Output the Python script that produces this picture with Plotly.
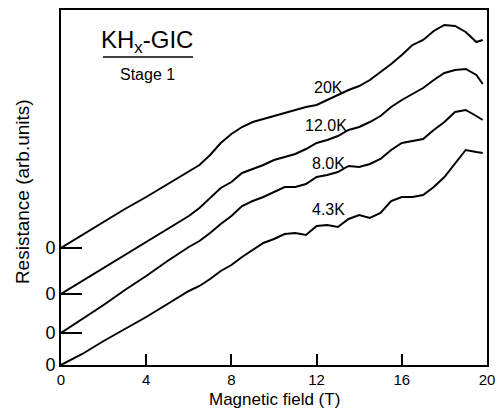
import plotly.graph_objects as go

# Magnetic field (T) at which each trace is sampled
field = [0, 1, 2, 3, 4, 5, 6,
         6.5, 7, 7.5, 8, 8.5, 9, 9.5, 10, 10.5, 11, 11.5, 12, 12.5, 13,
         13.5, 14, 14.5, 15, 15.5, 16, 16.5, 17, 17.5, 18, 18.5, 19, 19.5,
         19.8]

# Resistance (arb. units) of each trace above its own zero
r_20k = [0, 1.3, 2.6, 3.9, 5.1, 6.4, 7.7,
         8.3, 9.3, 10.5, 11.4, 12.1, 12.6, 12.9, 13.2, 13.5, 13.8, 14.1, 14.3, 14.8, 15.3,
         15.8, 16.2, 16.8, 17.6, 18.4, 19.3, 20.3, 20.8, 21.7, 22.3, 22.2, 21.6, 20.6,
         20.8]
r_12k = [0, 1.3, 2.6, 3.9, 5.2, 6.5, 7.8,
         8.6, 9.6, 10.6, 11.2, 12.1, 12.5, 12.9, 13.4, 13.7, 14.0, 14.5, 15.1, 15.4, 15.8,
         16.4, 16.7, 17.2, 17.8, 18.7, 19.4, 20.0, 20.6, 21.4, 22.1, 22.4, 22.5, 21.9,
         21.0]
r_8k = [0, 1.4, 2.8, 4.3, 5.7, 7.2, 8.6,
        9.2, 10.0, 10.9, 11.7, 12.7, 13.2, 13.6, 14.1, 14.6, 14.6, 14.9, 15.6, 15.8, 16.1,
        16.7, 16.6, 16.9, 17.4, 18.3, 19.0, 19.2, 19.4, 20.3, 21.1, 22.1, 22.3, 21.7,
        21.3]
r_4k = [0, 1.1, 2.4, 3.6, 4.8, 6.1, 7.4,
        7.9, 8.6, 9.4, 10.0, 10.8, 11.5, 12.2, 12.6, 13.1, 13.2, 13.0, 13.9, 14.0, 13.8,
        14.6, 15.0, 14.7, 15.2, 16.4, 16.8, 16.8, 17.0, 17.8, 18.8, 20.2, 21.5, 21.3,
        21.2]

temps = ["20K", "12.0K", "8.0K", "4.3K"]
offsets = [11.7, 7.1, 3.2, 0.0]
traces = [r_20k, r_12k, r_8k, r_4k]

# Label anchor for each temperature (field, resistance)
label_x = [12.54, 12.44, 12.58, 12.58]
label_y = [27.8, 24.0, 20.2, 15.6]

x_ticks = [0, 4, 8, 12, 16, 20]

FONT = "Liberation Sans"

fig = go.Figure()
for name, off, r in zip(temps, offsets, traces):
    fig.add_trace(go.Scatter(
        x=field, y=[off + v for v in r], mode="lines", name=name,
        line=dict(color="black", width=2), showlegend=False,
    ))

for name, lx, ly in zip(temps, label_x, label_y):
    fig.add_annotation(x=lx, y=ly, text=name, showarrow=False,
                       font=dict(family=FONT, size=16, color="black"))

# Sample title block
fig.add_annotation(x=4.04, y=32.4, text="KH<sub>x</sub>-GIC", showarrow=False,
                   font=dict(family=FONT, size=24, color="black"))
fig.add_annotation(x=4.04, y=29.1, text="Stage 1", showarrow=False,
                   font=dict(family=FONT, size=16, color="black"))
fig.add_shape(type="line", x0=1.97, x1=6.2, y0=30.8, y1=30.8,
              line=dict(color="black", width=1.5))

# Axis titles placed beside the plot frame
fig.add_annotation(xref="paper", yref="paper", x=0.5, y=0, yanchor="top",
                   yshift=-23, text="Magnetic field (T)", showarrow=False,
                   font=dict(family=FONT, size=17, color="black"))
fig.add_annotation(xref="paper", yref="paper", x=0, y=0.487, xanchor="center",
                   xshift=-39, textangle=-90, text="Resistance (arb.units)",
                   showarrow=False, font=dict(family=FONT, size=19, color="black"))

fig.update_layout(
    width=500, height=409,
    margin=dict(l=61, r=13, t=10, b=44),
    paper_bgcolor="white", plot_bgcolor="white",
    font=dict(family=FONT, color="black"),
    xaxis=dict(
        range=[0, 20], tickvals=x_ticks, ticktext=[str(t) for t in x_ticks],
        ticks="inside", ticklen=11, tickwidth=2, tickcolor="black",
        showline=True, linecolor="black", linewidth=2, mirror=True,
        showgrid=False, zeroline=False, ticklabelstandoff=0, automargin=False,
        tickfont=dict(family=FONT, size=15),
    ),
    yaxis=dict(
        range=[0, 35.5], tickvals=offsets, ticktext=["0"] * len(offsets),
        ticks="inside", ticklen=21, tickwidth=2, tickcolor="black",
        showline=True, linecolor="black", linewidth=2, mirror=True,
        showgrid=False, zeroline=False, automargin=False,
        tickfont=dict(family=FONT, size=18),
    ),
)

fig.write_html("out.html")
